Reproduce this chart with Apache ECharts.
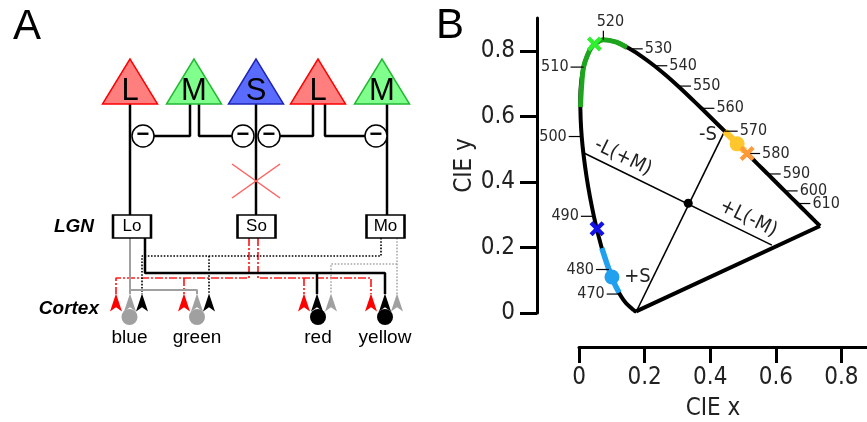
<!DOCTYPE html>
<html><head><meta charset="utf-8">
<script src="https://cdn.jsdelivr.net/npm/echarts@6/dist/echarts.min.js"></script>
<style>html,body{margin:0;padding:0;background:#fff}#c{width:867px;height:422px}</style>
</head><body><div id="c"></div>
<script>
// ================= Panel B data (CIE 1931 chromaticity) =================
const locusNm = [380,400,420,430,440,450,460,465,470,475,480,485,490,495,500,505,510,515,520,525,530,535,540,545,550,555,560,565,570,575,580,585,590,595,600,605,610,620,630,640,650,660,700];
const locusX  = [0.1741,0.1733,0.1714,0.1689,0.1644,0.1566,0.1440,0.1355,0.1241,0.1096,0.0913,0.0687,0.0454,0.0235,0.0082,0.0039,0.0139,0.0389,0.0743,0.1142,0.1547,0.1929,0.2296,0.2658,0.3016,0.3373,0.3731,0.4087,0.4441,0.4788,0.5125,0.5448,0.5752,0.6029,0.6270,0.6482,0.6658,0.6915,0.7079,0.7190,0.7260,0.7300,0.7347];
const locusY  = [0.0050,0.0048,0.0051,0.0069,0.0109,0.0177,0.0297,0.0399,0.0578,0.0868,0.1327,0.2007,0.2950,0.4127,0.5384,0.6548,0.7502,0.8120,0.8338,0.8262,0.8059,0.7816,0.7543,0.7243,0.6923,0.6589,0.6245,0.5896,0.5547,0.5202,0.4866,0.4544,0.4242,0.3965,0.3725,0.3514,0.3340,0.3083,0.2920,0.2809,0.2740,0.2700,0.2653];

const greenSegX  = [0.0045,0.0139,0.0389,0.0743,0.1142,0.146];
const greenSegY  = [0.628,0.7502,0.8120,0.8338,0.8262,0.810];
const blueSegX   = [0.0696,0.0913,0.1096,0.1225];
const blueSegY   = [0.198,0.1327,0.0868,0.062];
const yellowSegX = [0.4441,0.4788,0.505];
const yellowSegY = [0.5547,0.5202,0.494];

const tickNm   = [470,480,490,500,510,520,530,540,550,560,570,580,590,600,610];
const tickSide = ['left','left','left','left','left','up','right','right','right','right','right','right','right','right','right'];

const lmAxisX = [0.015,0.588];   // -L(+M) ... +L(-M)
const lmAxisY = [0.488,0.207];
const sAxisX  = [0.444,0.174];   // -S ... +S
const sAxisY  = [0.555,0.003];
const whitePoint = [0.333,0.335];

const dotMarkers = [[0.1005,0.1098],[0.482,0.516]];   // blue, yellow
const crossMarkers = [[0.055,0.257],[0.047,0.821],[0.5125,0.4866]]; // blue, green, orange

const axisTextB = [['-L(+M)',0.134,0.475],['+L(-M)',0.516,0.288],['-S',0.393,0.543],['+S',0.178,0.110]];

const xTicks = [0,0.2,0.4,0.6,0.8];
const yTicks = [0,0.2,0.4,0.6,0.8];

// ================= Panel A data (schematic, diagram units) =================
const coneLabels = ['L','M','S','L','M'];
const coneX = [130,194,256,318,382];
const opponentX = [143,243,269,376];
const lgnLabels = ['Lo','So','Mo'];
const lgnX = [132,256.5,385.5];
const cellLabels = ['blue','green','red','yellow'];
const cellX = [129.5,197,318,385];
const cellShade = ['gray','gray','black','black'];
const arrowX = [116,130,142, 184,197,209, 304,317,331, 371,385,397];
const arrowKind = ['red','gray','black','red','gray','black','red','black','gray','red','black','gray'];

const wiresBlack = [
  [[130,104],[130,215]],
  [[190,104],[190,136],[154,136]],
  [[199,104],[199,136],[232,136]],
  [[256,104],[256,215]],
  [[313,104],[313,136],[280,136]],
  [[325,104],[325,136],[365,136]],
  [[387,104],[387,215]],
  [[145,238],[145,273],[385,273],[385,294]],
  [[317,273],[317,294]]
];
const wiresGray = [
  [[130,238],[130,294]],
  [[130,290],[197,290],[197,294]]
];
const wiresDotBlack = [
  [[381,238],[381,256],[142,256],[142,294]],
  [[209,256],[209,294]]
];
const wiresDotGray = [
  [[397,238],[397,294]],
  [[397,264],[331,264],[331,294]]
];
const wiresRed = [
  [[249,238],[249,278],[116,278],[116,294]],
  [[184,278],[184,294]],
  [[258,238],[258,278],[371,278],[371,294]],
  [[304,278],[304,294]]
];
const crossA = [[[232,164],[280,198]],[[232,198],[280,164]]];

// ================= styles =================
const coneStyle = {L:{fill:'#ff7f7f',stroke:'#ff0000'},M:{fill:'#80ff8c',stroke:'#22b832'},S:{fill:'#5a6cff',stroke:'#1e24b4'}};
const shade = {red:'#ff0000',gray:'#a0a0a0',black:'#000000'};
const fontA = "'Liberation Sans', Arial, sans-serif";
const fontB = "'DejaVu Sans Condensed','DejaVu Sans', sans-serif";
const txtB = '#222';
const xPath = 'path://M0,2L2,0L5,3L8,0L10,2L7,5L10,8L8,10L5,7L2,10L0,8L3,5Z';

const series = [];
function wireSeries(list, color, width, type) {
  list.forEach(pts => series.push({
    type:'line', xAxisIndex:0, yAxisIndex:0, data:pts, showSymbol:false, silent:true, z:2,
    lineStyle:{color, width, type, opacity:1}
  }));
}
wireSeries(wiresRed, '#ff2020', 1.7, [8,2,2,2]);
wireSeries(wiresDotGray, '#a8a8a8', 1.6, [1.6,1.6]);
wireSeries(wiresDotBlack, '#000', 1.6, [1.6,1.6]);
wireSeries(wiresGray, '#a0a0a0', 2, 'solid');
wireSeries(wiresBlack, '#000', 2.5, 'solid');
wireSeries(crossA, '#ff6060', 1.5, 'solid');

// cones
series.push({
  type:'scatter', xAxisIndex:0, yAxisIndex:0, symbol:'triangle', symbolSize:[55,45], z:5, silent:true,
  data: coneLabels.map((l,i)=>({value:[coneX[i],81.5], name:l,
      itemStyle:{color:coneStyle[l].fill, borderColor:coneStyle[l].stroke, borderWidth:1.5, opacity:1}})),
  label:{show:true, position:'inside', offset:[0,10], formatter:p=>p.name, fontSize:31, fontFamily:fontA, color:'#000'}
});
// opponent nodes
series.push({
  type:'scatter', xAxisIndex:0, yAxisIndex:0, symbol:'circle', symbolSize:22, z:6, silent:true,
  data: opponentX.map(x=>[x,136]),
  itemStyle:{color:'#fff', borderColor:'#000', borderWidth:1.5, opacity:1},
  label:{show:true, position:'inside', formatter:'\u2212', fontSize:22, fontWeight:900, fontFamily:fontA, color:'#000', offset:[0,-1]}
});
// LGN boxes
series.push({
  type:'scatter', xAxisIndex:0, yAxisIndex:0, symbol:'rect', symbolSize:[38,23], z:6, silent:true,
  data: lgnLabels.map((l,i)=>({value:[lgnX[i],226.5], name:l})),
  itemStyle:{color:'#fff', borderColor:'#000', borderWidth:2, opacity:1},
  label:{show:true, position:'inside', formatter:p=>p.name, fontSize:17, fontFamily:fontA, color:'#000'}
});
// cortex cells
series.push({
  type:'scatter', xAxisIndex:0, yAxisIndex:0, symbol:'circle', symbolSize:16, z:5, silent:true,
  data: cellLabels.map((l,i)=>({value:[cellX[i],317], name:l, itemStyle:{color:shade[cellShade[i]], opacity:1}})),
  label:{show:true, position:'bottom', distance:3, formatter:p=>p.name, fontSize:19, fontFamily:fontA, color:'#000'}
});
// arrows
series.push({
  type:'scatter', xAxisIndex:0, yAxisIndex:0, symbol:'path://M6,0L12,17L6,13L0,17Z', symbolSize:[12,18], z:7, silent:true,
  data: arrowX.map((x,i)=>({value:[x,302.5], itemStyle:{color:shade[arrowKind[i]], opacity:1}}))
});

// ---- Panel B series ----
const locusPts = locusX.map((x,i)=>[x,locusY[i]]);
series.push({type:'line', xAxisIndex:1, yAxisIndex:1, data:locusPts, showSymbol:false, silent:true, smooth:0.25, z:3,
  lineStyle:{color:'#000', width:4}});
series.push({type:'line', xAxisIndex:1, yAxisIndex:1, data:[locusPts[locusPts.length-1], locusPts[0]], showSymbol:false, silent:true, z:3,
  lineStyle:{color:'#000', width:4}});
function seg(xs, ys, color, w) {
  series.push({type:'line', xAxisIndex:1, yAxisIndex:1, data:xs.map((x,i)=>[x,ys[i]]), showSymbol:false, silent:true, smooth:0.25, z:4,
    lineStyle:{color, width:w, cap:'butt'}});
}
seg(greenSegX, greenSegY, '#1ea51e', 5);
seg(blueSegX, blueSegY, '#22a0f0', 5.5);
seg(yellowSegX, yellowSegY, '#ffc72c', 6.5);
series.push({type:'line', xAxisIndex:1, yAxisIndex:1, data:lmAxisX.map((x,i)=>[x,lmAxisY[i]]), showSymbol:false, silent:true, z:3,
  lineStyle:{color:'#000', width:1.6}});
series.push({type:'line', xAxisIndex:1, yAxisIndex:1, data:sAxisX.map((x,i)=>[x,sAxisY[i]]), showSymbol:false, silent:true, z:3,
  lineStyle:{color:'#000', width:1.6}});
series.push({type:'scatter', xAxisIndex:1, yAxisIndex:1, data:[whitePoint], symbolSize:9, silent:true, z:5, itemStyle:{color:'#000', opacity:1}});
const dotColors = ['#22a0f0','#ffc72c'];
series.push({type:'scatter', xAxisIndex:1, yAxisIndex:1, symbolSize:15, silent:true, z:6,
  data: dotMarkers.map((p,i)=>({value:p, itemStyle:{color:dotColors[i], opacity:1}}))});
const crossColors = ['#1212e8','#2ef02e','#ff9a3a'];
series.push({type:'scatter', xAxisIndex:1, yAxisIndex:1, symbol:xPath, symbolSize:15, silent:true, z:7,
  data: crossMarkers.map((p,i)=>({value:p, itemStyle:{color:crossColors[i], opacity:1}}))});
series.push({type:'scatter', xAxisIndex:1, yAxisIndex:1, symbolSize:0, silent:true, z:8,
  itemStyle:{opacity:1},
  data: axisTextB.map(t=>({value:[t[1],t[2]], name:t[0]})),
  label:{show:true, position:'inside', formatter:p=>p.name, fontSize:20, fontFamily:fontB, color:txtB, opacity:1},
  labelLayout: p => ({rotate: (p.dataIndex<2 ? -26 : 0)})
});
// wavelength ticks
series.push({
  type:'custom', xAxisIndex:1, yAxisIndex:1, silent:true, z:6, clip:false,
  data: tickNm.map(nm => { const k = locusNm.indexOf(nm); return [locusX[k], locusY[k], nm]; }),
  renderItem: (params, api) => {
    const p = api.coord([api.value(0), api.value(1)]);
    const side = tickSide[params.dataIndex];
    const nm = String(api.value(2));
    const L = 13;
    let x2 = p[0], y2 = p[1], tx, ty, align, va;
    if (side === 'right') { x2 = p[0] + L; tx = x2 + 2; ty = p[1]; align='left'; va='middle'; }
    else if (side === 'left') { x2 = p[0] - L; tx = x2 - 2; ty = p[1]; align='right'; va='middle'; }
    else { y2 = p[1] - 9; tx = p[0] + 7; ty = y2 - 1; align='center'; va='bottom'; }
    return {type:'group', children:[
      {type:'line', shape:{x1:p[0], y1:p[1], x2, y2}, style:{stroke:'#000', lineWidth:1.2}},
      {type:'text', x:tx, y:ty, style:{text:nm, fontSize:16, fontFamily:fontB, fill:'#2a2a2a', align, verticalAlign:va}}
    ]};
  }
});

const fmt = v => (v === 0 ? '0' : String(+v.toFixed(1)));
const chart = echarts.init(document.getElementById('c'), null, {renderer:'canvas'});
chart.setOption({
  animation:false,
  backgroundColor:'#fff',
  grid:[
    {left:0, top:0, width:430, height:422, containLabel:false, outerBoundsMode:'none'},
    {left:579, top:18, width:288, height:295, containLabel:false, outerBoundsMode:'none'}
  ],
  xAxis:[
    {gridIndex:0, type:'value', min:0, max:430, show:false},
    {gridIndex:1, type:'value', min:0, max:0.878, position:'bottom', offset:34,
     axisLine:{show:true, onZero:false, lineStyle:{color:'#000', width:3}},
     axisTick:{show:true, length:16, lineStyle:{color:'#000', width:3}, customValues:xTicks},
     axisLabel:{margin:19, fontSize:24, fontFamily:fontB, color:txtB, customValues:xTicks, formatter:fmt},
     splitLine:{show:false},
     name:'CIE x', nameLocation:'middle', nameGap:50,
     nameTextStyle:{fontSize:24, fontFamily:fontB, color:txtB, padding:[0,20,0,0]}}
  ],
  yAxis:[
    {gridIndex:0, type:'value', min:0, max:422, inverse:true, show:false},
    {gridIndex:1, type:'value', min:0, max:0.9, position:'left', offset:42,
     axisLine:{show:true, onZero:false, lineStyle:{color:'#000', width:3}},
     axisTick:{show:true, length:17, lineStyle:{color:'#000', width:3}, customValues:yTicks},
     axisLabel:{margin:22, fontSize:24, fontFamily:fontB, color:txtB, customValues:yTicks, formatter:fmt},
     splitLine:{show:false},
     name:'CIE y', nameLocation:'middle', nameGap:60,
     nameTextStyle:{fontSize:24, fontFamily:fontB, color:txtB}}
  ],
  graphic:[
    {type:'text', x:27, y:27, style:{text:'A', fontSize:42, fontFamily:fontA, fill:'#000', align:'center', verticalAlign:'middle'}},
    {type:'text', x:450, y:26, style:{text:'B', fontSize:42, fontFamily:fontA, fill:'#000', align:'center', verticalAlign:'middle'}},
    {type:'text', x:94, y:227, style:{text:'LGN', fontSize:19, fontWeight:'bold', fontStyle:'italic', fontFamily:fontA, fill:'#000', align:'right', verticalAlign:'middle'}},
    {type:'text', x:99, y:309, style:{text:'Cortex', fontSize:19, fontWeight:'bold', fontStyle:'italic', fontFamily:fontA, fill:'#000', align:'right', verticalAlign:'middle'}}
  ],
  series
});
</script></body></html>
